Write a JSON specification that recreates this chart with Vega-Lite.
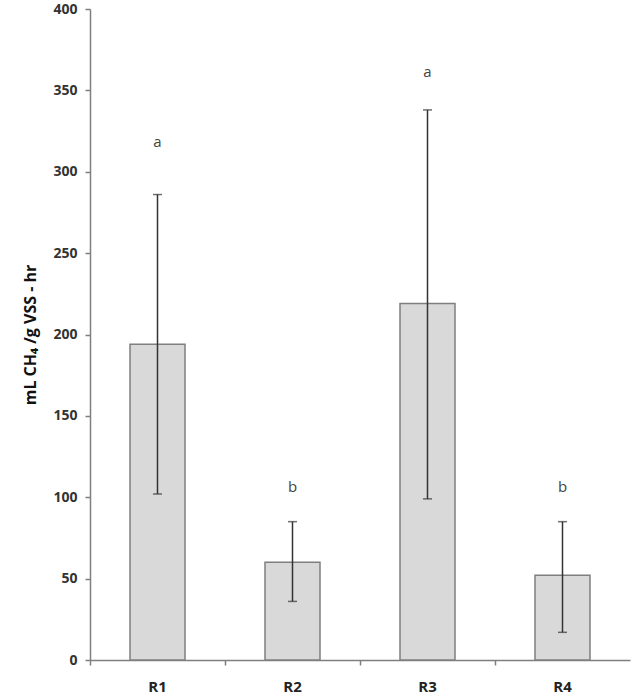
{
  "$schema": "https://vega.github.io/schema/vega-lite/v6.json",
  "width": 540,
  "height": 651,
  "autosize": {"type": "none"},
  "padding": {"left": 90, "top": 9, "right": 4, "bottom": 40},
  "background": "white",
  "config": {"view": {"stroke": null}, "font": "Open Sans"},
  "data": {"values": [
    {"reactor": "R1", "rate": 194, "lo": 102, "hi": 286, "letter": "a", "ly": 318},
    {"reactor": "R2", "rate": 60, "lo": 36, "hi": 85, "letter": "b", "ly": 106},
    {"reactor": "R3", "rate": 219, "lo": 99, "hi": 338, "letter": "a", "ly": 361},
    {"reactor": "R4", "rate": 52, "lo": 17, "hi": 85, "letter": "b", "ly": 106}
  ]},
  "encoding": {
    "x": {"field": "reactor", "type": "nominal", "sort": null,
      "scale": {"paddingInner": 0, "paddingOuter": 0},
      "axis": {"title": null, "labelAngle": 0, "bandPosition": 0, "labelFontWeight": "bold", "labelFontSize": 15, "labelColor": "#222", "labelPadding": 14, "domainColor": "#7f7f7f", "domainWidth": 1.5, "tickColor": "#7f7f7f", "tickSize": 5, "tickWidth": 1.5}}
  },
  "layer": [
    {"mark": {"type": "bar", "size": 55, "fill": "#d9d9d9", "stroke": "#7f7f7f", "strokeWidth": 1.5},
     "encoding": {"y": {"field": "rate", "type": "quantitative",
       "scale": {"domain": [0, 400], "nice": false},
       "axis": {"values": [0, 50, 100, 150, 200, 250, 300, 350, 400], "grid": false, "title": "mL CH₄ /g VSS - hr", "titleFontWeight": "bold", "titleFontSize": 16, "titleColor": "#111", "titlePadding": 14, "labelFontWeight": "bold", "labelFontSize": 14, "labelColor": "#333", "labelPadding": 8, "domainColor": "#7f7f7f", "domainWidth": 1.5, "tickColor": "#7f7f7f", "tickSize": 5, "tickWidth": 1.5}}}},
    {"mark": {"type": "rule", "color": "#333", "strokeWidth": 1.5},
     "encoding": {"y": {"field": "lo", "type": "quantitative"}, "y2": {"field": "hi"}}},
    {"mark": {"type": "tick", "color": "#333", "size": 9, "thickness": 1.5},
     "encoding": {"y": {"field": "lo", "type": "quantitative"}}},
    {"mark": {"type": "tick", "color": "#333", "size": 9, "thickness": 1.5},
     "encoding": {"y": {"field": "hi", "type": "quantitative"}}},
    {"mark": {"type": "text", "fontSize": 15, "fill": "#444", "baseline": "middle"},
     "encoding": {"y": {"field": "ly", "type": "quantitative"}, "text": {"field": "letter"}}}
  ]
}
